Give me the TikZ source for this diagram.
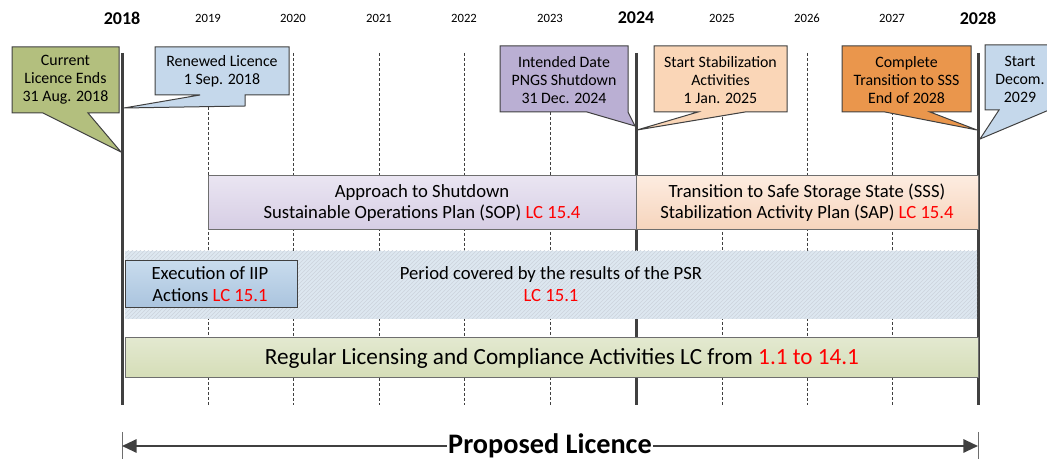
\documentclass[tikz,border=0pt]{standalone}
\usepackage{fontspec}
\setmainfont{Carlito}
\usetikzlibrary{patterns,arrows.meta}

\definecolor{inkGray}{RGB}{64,64,64}
\definecolor{edgeGray}{RGB}{110,110,110}
\definecolor{oliveCall}{RGB}{179,191,126}
\definecolor{blueCall}{RGB}{197,216,235}
\definecolor{purpleCall}{RGB}{186,175,211}
\definecolor{peachCall}{RGB}{250,214,183}
\definecolor{orangeCall}{RGB}{234,150,76}
\definecolor{sopTop}{RGB}{234,229,242}
\definecolor{sopBot}{RGB}{214,205,228}
\definecolor{sapTop}{RGB}{253,236,224}
\definecolor{sapBot}{RGB}{246,212,188}
\definecolor{iipTop}{RGB}{200,219,237}
\definecolor{iipBot}{RGB}{170,196,222}
\definecolor{regTop}{RGB}{227,233,208}
\definecolor{regBot}{RGB}{213,221,183}
\definecolor{psrFill}{RGB}{221,231,240}
\definecolor{psrHatch}{RGB}{204,211,220}
\definecolor{lcRed}{RGB}{255,0,0}

\newcommand{\lc}[1]{\textcolor{lcRed}{#1}}

\tikzset{every picture/.style={line width=0.75pt}}
\tikzset{
  yearline/.style={color=inkGray, line width=2.25pt},
  gridline/.style={color=inkGray, line width=0.6pt, dash pattern=on 2.25pt off 1.5pt},
  callout/.style={draw=inkGray, line width=0.75pt, line join=miter},
  calltext/.style={align=center, inner sep=0.75pt, font=\fontsize{11.9}{13.5}\selectfont},
  bandtext/.style={align=center, inner sep=0.75pt, font=\fontsize{14}{16}\selectfont},
  yearmajor/.style={inner sep=0.75pt, font=\fontsize{13.5}{16}\selectfont\bfseries},
  yearminor/.style={inner sep=0.75pt, font=\fontsize{9.5}{11}\selectfont},
}

\begin{document}
\begin{tikzpicture}[x=0.75pt,y=0.75pt,yscale=-1,xscale=1]
\useasboundingbox (0,0) rectangle (1047,459);

% Text Node
\draw (122,18) node (y2018) [yearmajor] {2018};
% Text Node
\draw (208,18) node (y2019) [yearminor] {2019};
% Text Node
\draw (293,18) node (y2020) [yearminor] {2020};
% Text Node
\draw (379,18) node (y2021) [yearminor] {2021};
% Text Node
\draw (464,18) node (y2022) [yearminor] {2022};
% Text Node
\draw (550,18) node (y2023) [yearminor] {2023};
% Text Node
\draw (636,18) node (y2024) [yearmajor] {2024};
% Text Node
\draw (722,18) node (y2025) [yearminor] {2025};
% Text Node
\draw (807,18) node (y2026) [yearminor] {2026};
% Text Node
\draw (892,18) node (y2027) [yearminor] {2027};
% Text Node
\draw (978,18) node (y2028) [yearmajor] {2028};

%Straight Lines (yearly grid)
\draw [gridline] (208,107) -- (208,405);
\draw [gridline] (293,53) -- (293,405);
\draw [gridline] (379,53) -- (379,405);
\draw [gridline] (464,53) -- (464,405);
\draw [gridline] (550,112) -- (550,405);
\draw [gridline] (722,112) -- (722,405);
\draw [gridline] (807,53) -- (807,405);
\draw [gridline] (892,112) -- (892,405);

%Straight Lines (licence years)
\draw [yearline] (122,53) -- (122,405);
\draw [yearline] (636,53) -- (636,405);
\draw [yearline] (978,53) -- (978,405);

%Shape: Rectangle (SOP)
\draw [draw=edgeGray, top color=sopTop, bottom color=sopBot] (208,176) rectangle (636,230);
%Shape: Rectangle (SAP)
\draw [draw=edgeGray, top color=sapTop, bottom color=sapBot] (636,176) rectangle (978,230);
%Shape: Rectangle (PSR period)
\fill [psrFill] (125,251) rectangle (977,319);
\fill [pattern=north east lines, pattern color=psrHatch] (125,251) rectangle (977,319);
%Shape: Rectangle (IIP)
\draw [draw=inkGray, top color=iipTop, bottom color=iipBot] (125,261) rectangle (297,308);
%Shape: Rectangle (regular licensing)
\draw [draw=edgeGray, top color=regTop, bottom color=regBot] (125,338) rectangle (978,378);

% Text Node
\draw (422,203) node (sop) [bandtext] {Approach to Shutdown\\Sustainable Operations Plan (SOP) \lc{LC 15.4}};
% Text Node
\draw (807,203) node (sap) [bandtext] {Transition to Safe Storage State (SSS)\\Stabilization Activity Plan (SAP) \lc{LC 15.4}};
% Text Node
\draw (210,284) node (iip) [bandtext] {Execution of IIP\\Actions \lc{LC 15.1}};
% Text Node
\draw (551,284) node (psr) [bandtext] {Period covered by the results of the PSR\\\lc{LC 15.1}};
% Text Node
\draw (562,358) node (reg) [inner sep=0.75pt, font=\fontsize{17.4}{20}\selectfont] {Regular Licensing and Compliance Activities LC from \lc{1.1 to 14.1}};

%Shape: Callout
\draw [callout, fill=oliveCall] (12,47) -- (119,47) -- (119,113) -- (88,113) -- (121,152) -- (43,113) -- (12,113) -- cycle;
% Text Node
\draw (65.5,80) node (curEnd) [calltext] {Current\\Licence Ends\\31 Aug. 2018};
%Shape: Callout
\draw [callout, fill=blueCall] (155,47) -- (289,47) -- (289,95) -- (245,95) -- (245,106) -- (124,108) -- (200,95) -- (155,95) -- cycle;
% Text Node
\draw (222,71) node (renew) [calltext] {Renewed Licence\\1 Sep. 2018};
%Shape: Callout
\draw [callout, fill=purpleCall] (500,46) -- (628,46) -- (628,112) -- (635,126) -- (587,112) -- (500,112) -- cycle;
% Text Node
\draw (564,80) node (shutdown) [calltext] {Intended Date\\PNGS Shutdown\\31 Dec. 2024};
%Shape: Callout
\draw [callout, fill=peachCall] (654,46) -- (787,46) -- (787,112) -- (745,112) -- (637,130) -- (698,112) -- (654,112) -- cycle;
% Text Node
\draw (720.5,80) node (stabil) [calltext] {Start Stabilization\\Activities\\1 Jan. 2025};
%Shape: Callout
\draw [callout, fill=orangeCall] (842,46) -- (971,46) -- (971,112) -- (930,112) -- (977,130) -- (885,112) -- (842,112) -- cycle;
% Text Node
\draw (906.5,80) node (sssEnd) [calltext] {Complete\\Transition to SSS\\End of 2028};
\begin{scope}
\clip (0,0) rectangle (1047,459);
%Shape: Callout
\draw [callout, fill=blueCall] (985,45) -- (1058,45) -- (1058,110) -- (1049,110) -- (980,139) -- (999,110) -- (985,110) -- cycle;
% Text Node
\draw (1020,79) node (decom) [calltext] {Start\\Decom.\\2029};
\end{scope}

%Straight Lines (licence term)
\draw [color=edgeGray] (122,432) -- (122,459);
\draw [color=edgeGray] (978,432) -- (978,459);
\coordinate (licL) at (122,446);
\coordinate (licR) at (978,446);
% Text Node
\draw (550,446) node (proposed) [fill=white, inner sep=0.75pt, font=\fontsize{21.2}{24}\selectfont\bfseries] {Proposed Licence};
\draw [color=inkGray, line width=1.5pt, -{Triangle[length=11pt,width=10pt]}] (proposed) -- (licL);
\draw [color=inkGray, line width=1.5pt, -{Triangle[length=11pt,width=10pt]}] (proposed) -- (licR);

\end{tikzpicture}
\end{document}
